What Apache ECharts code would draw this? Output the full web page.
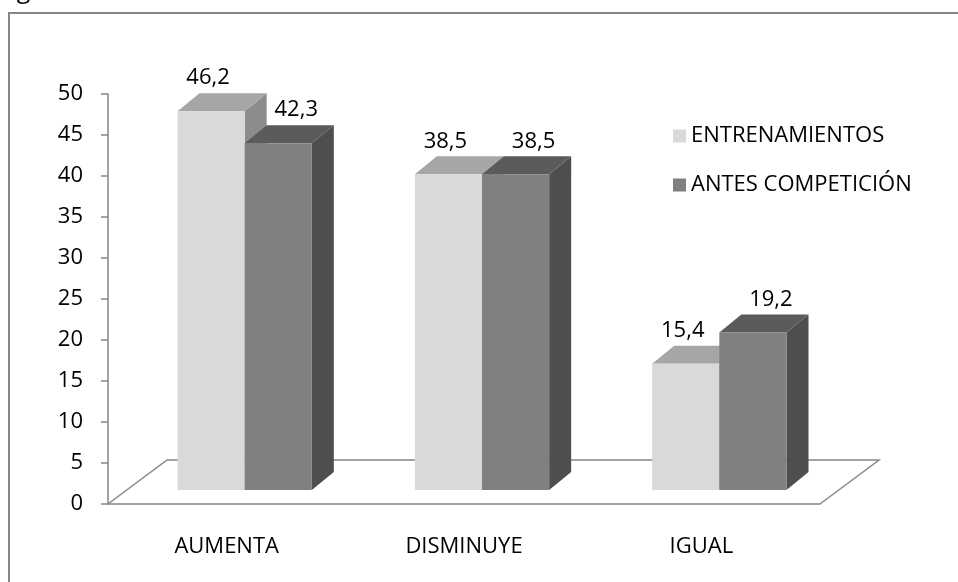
<!DOCTYPE html>
<html>
<head>
<meta charset="utf-8">
<script src="https://cdn.jsdelivr.net/npm/echarts@6/dist/echarts.min.js"></script>
<style>
  html, body { margin: 0; padding: 0; background: #fff; }
  #chart { width: 958px; height: 582px; }
</style>
</head>
<body>
<div id="chart"></div>
<script>
const categorias = ['AUMENTA', 'DISMINUYE', 'IGUAL'];
const serieNombres = ['ENTRENAMIENTOS', 'ANTES COMPETICIÓN'];
const entrenamientos = [46.2, 38.5, 15.4];
const antesCompeticion = [42.3, 38.5, 19.2];
const yMin = 0;
const yMax = 50;
const yPaso = 5;

// pseudo 3d look, in pixels
const shift = [18, -14];
const depth = [22, -18];
const floorDepth = [59, -44];
const barFrac = 0.283;
const fontFamily = '"Open Sans", sans-serif';
const fontSize = 22;
const textColor = '#000';
const axisGray = '#868686';

const colores = [
    { front: '#d9d9d9', top: '#a6a6a6', side: '#8c8c8c', labelDx: -3 },
    { front: '#808080', top: '#5b5b5b', side: '#4e4e4e', labelDx: 18 }
];

function fmt(v) {
    return String(v).replace('.', ',');
}

function makeBox(idx) {
    const c = colores[idx];
    return function (params, api) {
        const cat = api.value(0);
        const val = api.value(1);
        const base = api.coord([cat, 0]);
        const top = api.coord([cat, val]);
        const band = api.size([1, 0])[0];
        const w = band * barFrac;
        const x0 = base[0] + shift[0] + (idx === 0 ? -w : 0);
        const x1 = x0 + w;
        const yb = base[1] + shift[1];
        const yt = top[1] + shift[1];
        const dx = depth[0], dy = depth[1];
        return {
            type: 'group',
            children: [
                { type: 'polygon', shape: { points: [[x1, yb], [x1 + dx, yb + dy], [x1 + dx, yt + dy], [x1, yt]] }, style: { fill: c.side } },
                { type: 'polygon', shape: { points: [[x0, yt], [x1, yt], [x1 + dx, yt + dy], [x0 + dx, yt + dy]] }, style: { fill: c.top } },
                { type: 'rect', shape: { x: x0, y: yt, width: w, height: yb - yt }, style: { fill: c.front } },
                {
                    type: 'text',
                    style: {
                        text: fmt(val), x: (x0 + x1) / 2 + c.labelDx, y: yt + dy - 15,
                        align: 'center', verticalAlign: 'middle',
                        font: fontSize + 'px ' + fontFamily, fill: textColor
                    }
                }
            ]
        };
    };
}

function renderFloor(params, api) {
    const band = api.size([1, 0])[0];
    const a = api.coord([0, 0]);
    const b = api.coord([categorias.length - 1, 0]);
    const xs = a[0] - band / 2;
    const xe = b[0] + band / 2;
    const y = a[1];
    return {
        type: 'polyline',
        shape: { points: [[xs, y], [xs + floorDepth[0], y + floorDepth[1]], [xe + floorDepth[0], y + floorDepth[1]], [xe, y]] },
        style: { stroke: axisGray, lineWidth: 1.5, fill: null }
    };
}

const chart = echarts.init(document.getElementById('chart'));
chart.setOption({
    animation: false,
    backgroundColor: '#fff',
    textStyle: { fontFamily: fontFamily },
    graphic: [
        { type: 'text', left: 2, top: -22, style: { text: 'figura 1.', font: '25px ' + fontFamily, fill: textColor } },
        { type: 'rect', shape: { x: 9, y: 13, width: 1000, height: 620 }, style: { stroke: axisGray, lineWidth: 2, fill: null } }
    ],
    grid: { left: 108, right: 138, top: 94, bottom: 78 },
    legend: {
        orient: 'vertical',
        left: 668,
        top: 120,
        icon: 'rect',
        itemWidth: 13,
        itemHeight: 13,
        itemGap: 27,
        textStyle: { fontSize: fontSize, color: textColor, fontFamily: fontFamily },
        data: serieNombres
    },
    xAxis: {
        type: 'category',
        data: categorias,
        axisLine: { lineStyle: { color: axisGray, width: 1.5 } },
        axisTick: { length: 7, lineStyle: { color: axisGray, width: 1.5 } },
        axisLabel: { margin: 32, fontSize: fontSize, color: textColor }
    },
    yAxis: {
        type: 'value',
        min: yMin,
        max: yMax,
        interval: yPaso,
        splitLine: { show: false },
        axisLine: { show: true, lineStyle: { color: axisGray, width: 1.5 } },
        axisTick: { show: true, length: 7, lineStyle: { color: axisGray, width: 1.5 } },
        axisLabel: { margin: 25, fontSize: fontSize, color: textColor }
    },
    series: [
        { type: 'custom', name: 'piso', renderItem: renderFloor, data: [[0, 0]], silent: true },
        {
            type: 'custom', name: serieNombres[0], renderItem: makeBox(0),
            itemStyle: { color: colores[0].front },
            encode: { x: 0, y: 1 },
            data: entrenamientos.map((v, i) => [i, v])
        },
        {
            type: 'custom', name: serieNombres[1], renderItem: makeBox(1),
            itemStyle: { color: colores[1].front },
            encode: { x: 0, y: 1 },
            data: antesCompeticion.map((v, i) => [i, v])
        }
    ]
});
</script>
</body>
</html>
